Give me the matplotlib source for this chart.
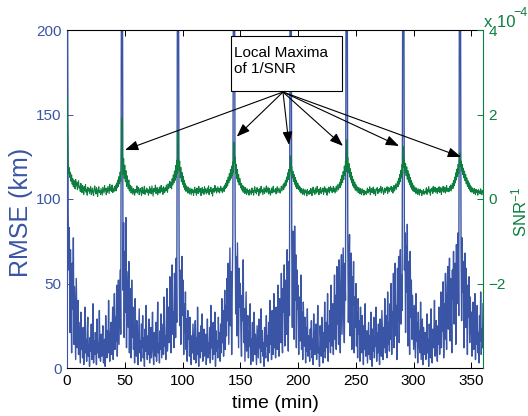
import numpy as np
import matplotlib
matplotlib.use("Agg")
import matplotlib.pyplot as plt
from matplotlib.ticker import FixedLocator, FuncFormatter

plt.rcParams['font.family'] = ['Liberation Sans', 'DejaVu Sans']
plt.rcParams['mathtext.fontset'] = 'custom'
plt.rcParams['mathtext.rm'] = 'Liberation Sans'
plt.rcParams['mathtext.it'] = 'Liberation Sans:italic'
plt.rcParams['mathtext.sf'] = 'Liberation Sans'

# sampling step of both series (minutes)
step_min = 0.5

# RMSE of the position estimate (km), one value every 0.5 min from t = 0
rmse_km = [
    240, 215, 92, 58, 83, 21, 70, 44, 9, 62, 35, 77, 14, 48, 26, 5, 53, 31, 12, 40,
    8, 27, 15, 3, 33, 11, 19, 6, 24, 2, 13, 36, 9, 17, 4, 22, 30, 7, 14, 1,
    18, 10, 26, 5, 12, 38, 3, 16, 8, 21, 13, 2, 29, 9, 15, 6, 34, 11, 4, 20,
    7, 14, 25, 3, 10, 17, 1, 31, 12, 6, 22, 9, 40, 15, 4, 19, 27, 8, 13, 36,
    5, 21, 44, 11, 30, 16, 49, 7, 25, 52, 14, 38, 58, 20, 210, 260, 230, 46, 86, 18,
    69, 33, 89, 12, 57, 40, 24, 63, 9, 47, 30, 6, 52, 18, 36, 11, 25, 3, 41, 15,
    7, 28, 13, 2, 20, 35, 9, 16, 4, 26, 12, 31, 6, 18, 1, 23, 10, 37, 14, 5,
    19, 8, 29, 3, 12, 24, 6, 15, 33, 10, 2, 21, 13, 7, 27, 4, 17, 39, 9, 14,
    3, 22, 11, 32, 6, 16, 26, 8, 42, 13, 19, 5, 30, 47, 10, 24, 36, 15, 54, 28,
    9, 40, 61, 20, 33, 12, 56, 44, 18, 65, 27, 215, 265, 240, 72, 25, 58, 14, 46, 66,
    31, 52, 8, 38, 21, 45, 11, 29, 4, 34, 17, 24, 7, 30, 13, 2, 19, 9, 26, 15,
    5, 12, 28, 3, 18, 8, 36, 11, 1, 21, 14, 6, 25, 10, 32, 4, 16, 23, 7, 13,
    20, 2, 11, 29, 6, 15, 9, 24, 3, 37, 12, 18, 5, 27, 8, 14, 33, 1, 22, 10,
    16, 6, 30, 12, 21, 4, 26, 9, 41, 15, 34, 7, 24, 46, 11, 37, 19, 53, 28, 62,
    14, 44, 71, 25, 57, 8, 48, 78, 225, 268, 235, 88, 32, 66, 19, 74, 41, 12, 59, 36,
    50, 22, 7, 43, 28, 64, 15, 35, 4, 26, 45, 10, 18, 31, 6, 22, 13, 38, 2, 17,
    9, 27, 4, 14, 33, 8, 20, 11, 2, 25, 16, 6, 29, 12, 19, 3, 35, 10, 22, 7,
    15, 1, 24, 11, 6, 31, 13, 19, 4, 27, 9, 40, 14, 21, 5, 34, 17, 8, 44, 12,
    26, 6, 36, 18, 11, 49, 23, 7, 41, 30, 15, 56, 21, 9, 47, 33, 61, 13, 52, 38,
    20, 70, 44, 10, 63, 31, 215, 262, 240, 76, 24, 81, 53, 17, 84, 40, 67, 12, 58, 35,
    49, 8, 42, 27, 16, 55, 11, 33, 5, 39, 21, 13, 30, 3, 24, 10, 35, 7, 19, 14,
    4, 23, 11, 28, 6, 17, 2, 32, 13, 8, 20, 26, 5, 15, 37, 9, 12, 1, 25, 18,
    7, 30, 14, 3, 21, 10, 39, 6, 18, 27, 12, 44, 4, 25, 16, 34, 9, 49, 22, 13,
    38, 8, 28, 55, 17, 43, 11, 60, 26, 36, 14, 64, 30, 9, 51, 67, 20, 45, 71, 33,
    15, 62, 40, 220, 270, 235, 75, 27, 58, 79, 19, 48, 68, 11, 54, 37, 63, 9, 42, 24,
    50, 13, 33, 6, 41, 20, 28, 4, 36, 15, 9, 31, 18, 2, 25, 11, 38, 7, 16, 22,
    3, 14, 27, 8, 19, 5, 33, 12, 1, 23, 10, 30, 6, 17, 13, 36, 4, 21, 9, 26,
    11, 2, 29, 15, 7, 34, 18, 5, 24, 12, 41, 9, 20, 31, 6, 45, 14, 27, 10, 38,
    17, 50, 8, 33, 24, 56, 12, 43, 62, 19, 37, 5, 59, 28, 66, 15, 47, 70, 26, 55,
    34, 225, 268, 238, 58, 80, 21, 72, 45, 85, 13, 63, 39, 8, 69, 30, 52, 17, 43, 26,
    11, 37, 20, 6, 44, 16, 27, 3, 33, 12, 22, 9, 39, 5, 18, 29, 2, 24, 13, 8,
    21, 5, 14, 32, 9, 17, 1, 26, 11, 6, 35, 15, 3, 23, 12, 19, 40, 7, 16, 28,
    10, 4, 25, 14, 36, 8, 19, 45, 12, 30, 22, 51, 6, 38, 17, 56, 27, 11, 48, 60,
    23, 42, 65, 16, 53, 35, 9, 58, 41, 69, 26, 50, 62, 14, 73, 38, 57, 80, 31, 210,
    262, 235, 71, 28, 77, 45, 63, 12, 55, 68, 24, 59, 36, 8, 49, 30, 54, 15, 42, 20,
    33, 7, 26, 39, 11, 18, 44, 5, 29, 14, 37, 9, 21, 3, 31, 16, 45, 8, 23, 12,
    38,
]

# inverse SNR, in units of 1e-6, same time grid
snr_inv_1e6 = [
    250, 175, 92, 60, 74, 51, 63, 42, 57, 35, 48, 29, 44, 38, 24, 46, 31, 40, 22, 35,
    43, 26, 30, 18, 37, 24, 15, 32, 27, 11, 29, 20, 34, 16, 23, 9, 28, 19, 25, 13,
    21, 30, 10, 17, 26, 14, 8, 24, 31, 18, 12, 27, 20, 6, 22, 29, 15, 19, 11, 25,
    17, 9, 28, 21, 14, 32, 19, 24, 10, 26, 16, 30, 22, 13, 35, 20, 27, 18, 33, 15,
    24, 17, 29, 21, 33, 19, 38, 26, 45, 30, 53, 36, 64, 42, 87, 192, 104, 58, 96, 49,
    80, 41, 67, 30, 55, 36, 24, 45, 19, 33, 27, 14, 30, 21, 11, 25, 18, 9, 23, 15,
    18, 31, 14, 23, 27, 10, 20, 25, 16, 8, 28, 19, 13, 24, 30, 11, 21, 17, 26, 15,
    22, 9, 18, 29, 14, 24, 12, 31, 20, 7, 25, 17, 21, 33, 13, 19, 27, 10, 23, 16,
    28, 14, 24, 32, 18, 26, 11, 29, 21, 15, 27, 19, 33, 23, 16, 36, 25, 31, 42, 27,
    39, 24, 48, 33, 57, 38, 66, 44, 79, 51, 92, 60, 162, 98, 66, 90, 50, 75, 41, 63,
    35, 54, 28, 44, 22, 36, 18, 31, 25, 14, 28, 21, 12, 26, 18, 10, 24, 16, 21, 8,
    20, 28, 15, 23, 9, 26, 18, 13, 30, 21, 16, 25, 8, 19, 27, 14, 22, 11, 29, 17,
    24, 12, 19, 26, 15, 31, 10, 22, 18, 28, 13, 23, 7, 25, 20, 16, 32, 19, 26, 14,
    21, 29, 17, 25, 14, 23, 30, 19, 26, 15, 22, 29, 18, 33, 24, 38, 27, 45, 31, 52,
    38, 60, 44, 70, 49, 78, 55, 88, 62, 135, 85, 99, 60, 82, 48, 70, 40, 58, 33, 49,
    40, 26, 37, 21, 32, 16, 29, 23, 13, 27, 20, 11, 24, 16, 20, 9, 23, 15, 19, 11,
    26, 16, 20, 9, 24, 29, 15, 21, 12, 27, 18, 23, 8, 19, 25, 14, 30, 17, 22, 10,
    19, 27, 13, 24, 18, 31, 15, 22, 28, 12, 25, 20, 9, 17, 26, 14, 23, 30, 16, 21,
    17, 25, 12, 22, 29, 15, 21, 26, 18, 14, 23, 30, 19, 27, 34, 22, 38, 28, 44, 32,
    52, 40, 62, 46, 70, 51, 60, 102, 68, 76, 50, 66, 42, 58, 35, 51, 29, 44, 24, 38,
    36, 22, 31, 18, 28, 14, 25, 20, 11, 24, 17, 9, 22, 15, 19, 7, 23, 13, 18, 11,
    20, 13, 25, 18, 8, 23, 28, 15, 21, 11, 26, 19, 14, 30, 17, 22, 10, 24, 16, 27,
    13, 21, 18, 26, 11, 23, 29, 16, 25, 20, 9, 24, 17, 28, 14, 22, 30, 19, 26, 15,
    21, 30, 17, 26, 14, 22, 31, 18, 27, 35, 22, 31, 40, 27, 47, 33, 56, 39, 65, 46,
    78, 56, 90, 64, 140, 80, 98, 62, 84, 52, 72, 45, 63, 38, 54, 31, 46, 26, 40, 21,
    34, 19, 29, 24, 15, 27, 21, 12, 25, 18, 10, 24, 16, 21, 9, 20, 14, 18, 11, 20,
    26, 14, 22, 18, 29, 10, 21, 25, 15, 19, 28, 12, 23, 17, 8, 24, 20, 27, 13, 22,
    16, 25, 19, 30, 14, 23, 27, 18, 11, 21, 26, 15, 24, 20, 29, 13, 22, 27, 17, 25,
    22, 30, 18, 27, 14, 24, 32, 19, 28, 36, 23, 33, 42, 29, 49, 35, 58, 41, 68, 50,
    82, 60, 124, 74, 93, 63, 84, 55, 76, 47, 67, 40, 59, 34, 51, 28, 44, 23, 38, 19,
    32, 17, 28, 22, 13, 26, 20, 11, 24, 17, 9, 23, 16, 20, 8, 19, 14, 22, 11, 18,
    14, 20, 27, 11, 23, 18, 29, 15, 21, 9, 24, 19, 26, 13, 30, 17, 22, 28, 16, 25,
    20, 13, 26, 18, 29, 15, 22, 27, 11, 24, 19, 30, 16, 23, 28, 14, 21, 32, 18, 25,
    24, 17, 29, 21, 33, 19, 28, 37, 25, 44, 31, 52, 38, 62, 45, 71, 53, 82, 61, 92,
    109, 76, 90, 66, 82, 58, 73, 50, 66, 43, 58, 36, 50, 30, 43, 25, 38, 21, 33, 17,
    29, 16, 26, 21, 13, 25, 19, 10, 23, 16, 20, 9, 22, 15, 19, 12, 24, 16, 10, 20,
    16,
]

x_ticks = [0, 50, 100, 150, 200, 250, 300, 350]
rmse_ticks = [0, 50, 100, 150, 200]
snr_ticks = [-2e-4, 0, 2e-4, 4e-4]

BLUE = '#3a55a5'
GREEN = '#0c7f3e'

t_rmse = np.arange(len(rmse_km)) * step_min
t_snr = np.arange(len(snr_inv_1e6)) * step_min
snr_inv = np.asarray(snr_inv_1e6) * 1e-6

fig = plt.figure(figsize=(5.28, 4.16), dpi=100)
ax = fig.add_axes([67 / 528, 48 / 416, 416 / 528, 338 / 416])
ax.plot(t_rmse, rmse_km, color=BLUE, lw=1.0)
ax.set_xlim(0, 360)
ax.set_ylim(0, 200)
ax.set_xticks(x_ticks)
ax.set_yticks(rmse_ticks)
ax.tick_params(axis='both', direction='in', length=4, width=0.7, labelsize=11, pad=4)
ax.tick_params(axis='x', top=True)
ax.tick_params(axis='y', colors=BLUE, labelcolor=BLUE)
ax.spines['right'].set_visible(False)
ax.spines['left'].set_color(BLUE)
for s in ('left', 'top', 'bottom'):
    ax.spines[s].set_linewidth(0.8)
ax.set_xlabel('time (min)', fontsize=14, labelpad=5)
ax.set_ylabel('RMSE (km)', fontsize=18, color=BLUE)
ax.yaxis.set_label_coords(-0.082, 0.46)

ax2 = ax.twinx()
ax2.plot(t_snr, snr_inv, color=GREEN, lw=0.8)
ax2.set_ylim(-4e-4, 4e-4)
ax2.yaxis.set_major_locator(FixedLocator(snr_ticks))
ax2.yaxis.set_major_formatter(
    FuncFormatter(lambda v, _: f"{v / 1e-4:g}".replace('-', '\u2212')))
ax2.tick_params(axis='y', direction='in', length=4, width=0.7, labelsize=11,
                pad=4, colors=GREEN, labelcolor=GREEN)
for s in ('left', 'top', 'bottom'):
    ax2.spines[s].set_visible(False)
ax2.spines['right'].set_color(GREEN)
ax2.spines['right'].set_linewidth(0.8)
ax2.set_ylabel('SNR$^{-1}$', fontsize=12, color=GREEN)
ax2.yaxis.set_label_coords(1.063, 0.46)

# exponent of the right-hand scale
ax2.text(1.003, 1.009, 'x 10', transform=ax2.transAxes, fontsize=12,
         color=GREEN, ha='left', va='baseline')
ax2.text(1.072, 1.04, '\u22124', transform=ax2.transAxes, fontsize=9,
         color=GREEN, ha='left', va='baseline')

# callout box
box = plt.Rectangle((0.394, 0.8195), 0.267, 0.1625, transform=ax2.transAxes,
                    facecolor='white', edgecolor='black', lw=0.8, zorder=5)
ax2.add_patch(box)
ax2.text(0.401, 0.921, 'Local Maxima', transform=ax2.transAxes, fontsize=11,
         ha='left', va='baseline', zorder=6)
ax2.text(0.401, 0.874, 'of 1/SNR', transform=ax2.transAxes, fontsize=11,
         ha='left', va='baseline', zorder=6)

# arrows from the callout to the 1/SNR peaks (time, left-axis units)
arrow_start = (186.9, 163.3)
arrow_tips = [(50.2, 129.0), (146.9, 136.9), (192.1, 132.0),
              (238.8, 131.4), (287.3, 131.4), (341.0, 124.9)]
for tip in arrow_tips:
    ax2.annotate('', xy=tip, xytext=arrow_start,
                 xycoords=ax.transData, textcoords=ax.transData,
                 arrowprops=dict(arrowstyle='-|>,head_length=0.8,head_width=0.3',
                                 color='black', lw=0.8, shrinkA=0, shrinkB=0),
                 zorder=7)

fig.savefig('out.png', dpi=100)
